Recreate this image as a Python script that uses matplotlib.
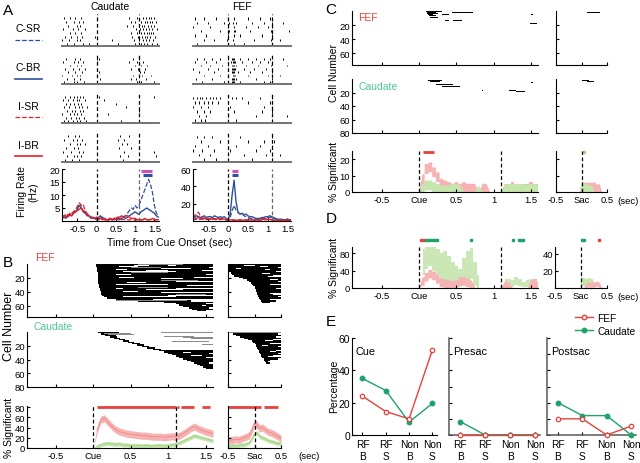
import numpy as np
import matplotlib.pyplot as plt
from matplotlib.lines import Line2D

plt.rcParams['font.family'] = ['Liberation Sans', 'DejaVu Sans']
plt.rcParams['font.size'] = 7
plt.rcParams['xtick.direction'] = 'in'
plt.rcParams['ytick.direction'] = 'in'
plt.rcParams['xtick.major.size'] = 2.2
plt.rcParams['ytick.major.size'] = 2.2
plt.rcParams['xtick.major.pad'] = 2
plt.rcParams['ytick.major.pad'] = 1.5
plt.rcParams['axes.linewidth'] = 0.8
plt.rcParams['xtick.labelsize'] = 6.8
plt.rcParams['ytick.labelsize'] = 6.8

# ---------------- data ----------------
# panel A rasters (spike times per trial, sec from cue)
caud_csr = [[-0.85, -0.7, -0.55, -0.4, 0.02, 0.85, 1.05, 1.2, 1.28, 1.35, 1.42, 1.5],
            [-0.8, -0.6, -0.45, -0.35, 0.9, 1.0, 1.15, 1.25, 1.3, 1.38, 1.45, 1.55],
            [-0.75, -0.5, -0.42, 0.8, 0.95, 1.1, 1.18, 1.24, 1.33, 1.4, 1.48],
            [-0.88, -0.62, -0.48, -0.3, 1.02, 1.12, 1.2, 1.27, 1.36, 1.43, 1.58],
            [-0.7, -0.55, -0.4, 0.88, 1.06, 1.16, 1.22, 1.3, 1.35, 1.41, 1.47],
            [-0.82, -0.66, -0.5, -0.38, -0.05, 0.92, 1.08, 1.19, 1.26, 1.32, 1.39, 1.52],
            [-0.9, -0.72, -0.52, -0.44, 0.4, 0.97, 1.1, 1.21, 1.29, 1.37, 1.46],
            [-0.78, -0.58, -0.36, -0.2, 0.55, 1.0, 1.14, 1.23, 1.31, 1.44, 1.56]]
caud_cbr = [[-0.8, -0.55, -0.42, 0.0, 0.05, 0.95, 1.1],
            [-0.88, -0.6, -0.48, -0.35, 0.02, 0.85, 1.05, 1.2],
            [-0.7, -0.52, -0.4, 1.0, 1.15, 1.3],
            [-0.82, -0.62, -0.45, -0.3, 0.9, 1.08, 1.25],
            [-0.75, -0.55, -0.38, 0.05, 1.12, 1.22],
            [-0.9, -0.65, -0.5, -0.42, 0.95, 1.18, 1.4],
            [-0.78, -0.58, -0.44, 0.1, 0.88, 1.02, 1.28],
            [-0.85, -0.6, -0.5, -0.33, 1.05, 1.15, 1.5]]
caud_isr = [[-0.82, -0.7, -0.6, -0.5, -0.42, -0.35, 0.05, 1.5],
            [-0.88, -0.75, -0.62, -0.52, -0.45, -0.3, 0.2],
            [-0.8, -0.68, -0.58, -0.48, -0.4, 0.5],
            [-0.85, -0.72, -0.55, -0.47, -0.38, -0.25, 0.75],
            [-0.78, -0.65, -0.56, -0.44, -0.36, 1.1],
            [-0.9, -0.7, -0.6, -0.5, -0.4, 0.3],
            [-0.8, -0.66, -0.54, -0.46, -0.33],
            [-0.86, -0.74, -0.62, -0.5, -0.42, -0.28, 0.62]]
caud_ibr = [[-0.75, -0.55, -0.45, 0.6, 0.85],
            [-0.85, -0.62, -0.5, -0.38, 0.55, 0.7],
            [-0.7, -0.52, -0.42, -0.3, 0.65, 0.8],
            [-0.8, -0.6, -0.48, 0.0, 0.58, 0.9],
            [-0.88, -0.66, -0.45, -0.35, 0.72, 1.5],
            [-0.78, -0.58, -0.5, -0.4, 0.6, 0.82, 1.55],
            [-0.82, -0.64, -0.46, 0.68]]
fef_csr = [[-0.85, -0.6, -0.3, 0.0, 0.15, 0.5, 0.8, 1.05, 1.1],
           [-0.8, -0.5, -0.1, 0.02, 0.12, 0.2, 0.6, 0.9, 1.1, 1.4],
           [-0.88, -0.45, 0.0, 0.15, 0.45, 0.75, 1.0, 1.12],
           [-0.7, -0.2, 0.01, 0.14, 0.18, 0.55, 1.08, 1.55],
           [-0.85, -0.55, 0.0, 0.16, 0.3, 0.85, 1.1],
           [-0.6, -0.35, -0.02, 0.13, 0.65, 1.09, 1.3],
           [-0.78, 0.0, 0.15, 0.4, 1.1]]
fef_cbr = [[-0.8, -0.6, -0.4, -0.2, 0.0, 0.1, 0.12, 0.15, 0.3, 0.5, 0.7, 0.9, 1.05, 1.4],
           [-0.85, -0.55, -0.3, 0.08, 0.11, 0.14, 0.17, 0.35, 0.6, 0.8, 1.0, 1.1],
           [-0.7, -0.45, -0.15, 0.0, 0.1, 0.13, 0.16, 0.2, 0.45, 0.75, 1.08, 1.5],
           [-0.88, -0.5, -0.25, 0.09, 0.12, 0.15, 0.18, 0.4, 0.65, 0.95],
           [-0.75, -0.35, 0.1, 0.13, 0.16, 0.25, 0.55, 0.85, 1.1],
           [-0.6, -0.2, 0.0, 0.11, 0.14, 0.17, 0.5, 1.02, 1.3],
           [-0.82, -0.4, 0.1, 0.12, 0.15, 0.19, 0.7, 1.1],
           [-0.65, -0.1, 0.09, 0.13, 0.16, 0.3, 0.9, 1.05]]
fef_isr = [[-0.88, -0.8, -0.72, -0.65, -0.55, -0.45, -0.38, -0.3, -0.2, 0.1, 0.2, 0.35, 0.8, 1.1],
           [-0.85, -0.75, -0.6, -0.5, -0.4, -0.25, 0.0, 0.5, 1.05],
           [-0.9, -0.7, -0.52, 0.05, 0.9, 1.1],
           [-0.8, -0.62, -0.45, 0.15, 0.85, 1.1],
           [-0.75, -0.55, 0.0, 0.7, 1.5],
           [-0.85, -0.68, -0.58, 0.2, 1.1]]
fef_ibr = [[-0.8, -0.6, -0.4, 0.3, 1.1],
           [-0.7, -0.2, 0.0, 0.5, 0.9, 1.15],
           [-0.85, -0.5, 0.2, 0.8, 1.1],
           [-0.88, -0.65, -0.35, 0.05, 0.7, 1.05],
           [-0.75, -0.45, 0.4, 0.95, 1.1, 1.3],
           [-0.6, -0.3, 0.0, 0.6, 1.1]]

# panel A firing rates (Hz), bins -0.9 .. 1.6 every 0.05 s
t_psth = np.linspace(-0.9, 1.6, 51)
rate_caud_csr = [1.5, 2, 1.5, 2.5, 2, 3, 3.5, 4.5, 5.5, 6.5,
                 5, 4, 3.5, 2.5, 2, 1.5, 1.5, 1, 1, 1.5,
                 1, 1.5, 1, 0.5, 0.5, 1, 0.5, 1, 0.5, 1,
                 1, 1.5, 1.5, 2, 3, 4, 5, 4.5, 6, 5,
                 6, 8, 10, 12, 14, 16, 14, 11, 6, 3, 2]
rate_caud_cbr = [1, 1.5, 1, 2, 2.5, 2, 3, 3.5, 4.5, 6,
                 5, 3.5, 3, 2, 2, 1, 1.5, 1, 0.5, 1.5,
                 2, 1, 1, 0.5, 0.5, 1, 0.5, 0.5, 1, 1,
                 0.5, 1, 1.5, 1, 1.5, 2, 2.5, 3, 3.5, 3,
                 2.5, 3.5, 4, 4.5, 5, 4.5, 4, 3.5, 3, 2, 1.5]
rate_caud_isr = [1.5, 2, 2.5, 2, 3, 2.5, 3.5, 4, 5.5, 7,
                 6, 6.5, 4, 3, 2, 1.5, 1, 1, 0.5, 0.5,
                 0.5, 0.8, 0.4, 0.5, 0.3, 0.6, 0.5, 0.4, 0.7, 0.5,
                 0.4, 0.6, 0.5, 0.8, 0.5, 0.4, 0.6, 0.5, 0.3, 0.5,
                 0.6, 0.4, 0.5, 0.7, 0.5, 0.4, 0.6, 0.5, 0.4, 0.5, 0.5]
rate_caud_ibr = [1, 1.5, 2, 1.5, 2.5, 2, 3, 3.5, 4, 4.5,
                 5, 4, 3.5, 2.5, 2, 1.5, 1, 1, 1.5, 1,
                 1, 0.5, 1, 0.5, 0.5, 1, 0.5, 1, 1, 1.5,
                 1.5, 2, 1.5, 2, 2, 1.5, 1, 1, 1, 0.5,
                 0.5, 0.5, 0.5, 1, 0.5, 0.5, 0.5, 1, 0.5, 0.5, 0.5]
rate_fef_csr = [2, 1.5, 2, 1.5, 2, 2.5, 2, 1.5, 2, 1.5,
                2, 2, 1.5, 2, 1.5, 2, 1.5, 1, 1, 4,
                12, 18, 12, 10, 8, 9, 6, 5, 4, 3,
                3, 2, 2, 2, 2, 2.5, 3, 3, 4, 4,
                4, 3, 2, 2, 1.5, 1.5, 1.5, 1, 1, 1, 1]
rate_fef_cbr = [5, 4, 6, 5, 4, 5, 6, 4, 5, 5,
                4, 6, 5, 4, 5, 4, 5, 3, 2, 8,
                30, 47, 22, 10, 8, 9, 7, 8, 6, 5,
                5, 4, 3, 3, 3, 4, 4, 5, 5, 6,
                5, 4, 3, 2, 2, 2, 1.5, 1.5, 2, 1.5, 1.5]
rate_fef_isr = [4, 6, 9, 10, 5, 3, 4, 3, 2, 3,
                2, 3, 2, 2, 3, 2, 2, 1.5, 1, 0.5,
                1, 1, 0.5, 1, 1, 0.5, 1, 1, 0.5, 1,
                1, 1, 0.5, 1, 1, 1, 1, 1.5, 1.5, 1,
                1, 0.5, 1, 0.5, 1, 0.5, 1, 0.5, 0.5, 1, 0.5]
rate_fef_ibr = [3, 2, 3, 4, 3, 2, 3, 2.5, 3, 2,
                3, 2.5, 2, 3, 2, 2.5, 2, 2, 1.5, 1,
                1.5, 1, 1, 1, 1.5, 1, 1, 1.5, 1, 1,
                1.5, 1, 1, 1, 1.5, 2, 2, 2.5, 2, 2,
                1.5, 1, 1, 1, 0.5, 1, 1, 0.5, 1, 0.5, 0.5]

# panel B significance maps: onset / offset per pair of cells
b_fef_cells = np.arange(1, 68, 2)
b_fef_on = [0.04, 0.04, 0.05, 0.05, 0.05, 0.05, 0.06, 0.06, 0.06, 0.06,
            0.07, 0.07, 0.07, 0.07, 0.08, 0.08, 0.08, 0.09, 0.09, 0.1,
            0.1, 0.11, 0.12, 0.14, 0.18, 0.3, 0.6, 0.95, 1.1, 1.15,
            1.2, 1.28, 1.32, 1.38]
b_fef_off = [1.6, 1.6, 1.55, 1.6, 1.45, 1.6, 1.6, 1.5, 1.6, 1.35,
             1.6, 1.6, 1.2, 1.6, 1.6, 1.5, 1.6, 1.1, 1.6, 1.6,
             1.4, 1.6, 1.0, 1.6, 1.6, 0.8, 1.3, 1.6, 1.5, 1.6,
             1.6, 1.55, 1.6, 1.5]
b_fef_gaps = [(2, 0.55, 0.75), (2, 1.0, 1.1), (4, 0.35, 0.6), (6, 0.9, 1.3), (8, 0.3, 0.45),
              (9, 0.7, 1.0), (11, 0.4, 1.1), (13, 1.2, 1.4), (15, 0.3, 0.5), (17, 0.6, 1.5),
              (19, 0.35, 0.55), (21, 0.9, 1.2), (23, 0.3, 0.8), (25, 1.1, 1.6), (27, 0.45, 0.7),
              (29, 0.3, 1.0), (31, 1.25, 1.5), (33, 0.5, 0.9), (35, 0.3, 0.4), (37, 0.7, 1.2),
              (39, 0.4, 0.6), (41, 0.9, 1.6), (43, 0.35, 0.75), (45, 1.0, 1.3), (47, 0.4, 1.1),
              (50, 0.5, 0.9), (56, 1.3, 1.4), (60, 1.45, 1.5)]
b_fef_gray = [(1, 0.6, 1.2), (5, 0.5, 0.9), (12, 0.5, 1.0), (24, 0.9, 1.4), (34, 0.6, 1.0),
              (44, 1.1, 1.5), (52, 0.3, 1.25)]

b_fef_sac_cells = np.arange(1, 56, 2)
b_fef_sac_on = [-0.5, -0.5, -0.5, -0.5, -0.5, -0.48, -0.45, -0.42, -0.38, -0.3,
                -0.22, -0.15, -0.1, -0.06, -0.04, -0.02, 0.0, 0.01, 0.02, 0.03,
                0.04, 0.05, 0.06, 0.07, 0.08, 0.1, 0.12, 0.15]
b_fef_sac_off = [0.5, 0.5, 0.45, 0.5, 0.5, 0.4, 0.5, 0.5, 0.35, 0.5,
                 0.5, 0.5, 0.45, 0.5, 0.3, 0.5, 0.5, 0.4, 0.5, 0.5,
                 0.5, 0.35, 0.5, 0.45, 0.5, 0.3, 0.4, 0.3]
b_fef_sac_gaps = [(2, -0.2, 0.0), (4, 0.1, 0.25), (6, -0.35, -0.25), (8, 0.2, 0.3), (10, -0.1, 0.05),
                  (14, 0.15, 0.3), (18, 0.25, 0.4), (22, 0.3, 0.45), (26, 0.2, 0.3), (30, 0.35, 0.5),
                  (36, 0.25, 0.35), (42, 0.3, 0.4), (46, 0.2, 0.3)]

b_caud_cells = np.arange(1, 54, 2)
b_caud_on = [0.07, 0.1, 0.16, 0.22, 0.28, 0.34, 0.4, 0.46, 0.52, 0.58,
             0.65, 0.72, 0.8, 0.88, 0.95, 1.0, 1.05, 1.1, 1.15, 1.2,
             1.25, 1.3, 1.35, 1.38, 1.42, 1.47, 1.5]
b_caud_off = [0.35, 0.3, 0.3, 0.32, 0.36, 0.42, 0.48, 0.55, 0.62, 0.68,
              0.75, 0.82, 0.9, 1.6, 1.6, 1.55, 1.6, 1.6, 1.5, 1.6,
              1.6, 1.6, 1.55, 1.6, 1.6, 1.6, 1.6]
b_caud_gray = [(1, 0.9, 1.6), (2, 0.15, 0.5), (4, 0.2, 0.55), (6, 0.95, 1.35), (8, 1.2, 1.6),
               (10, 1.3, 1.6), (14, 1.05, 1.55), (18, 1.45, 1.6)]
b_caud_gaps = [(30, 1.2, 1.3), (34, 1.3, 1.45), (38, 1.35, 1.5), (42, 1.4, 1.5)]

b_caud_sac_cells = np.arange(1, 46, 2)
b_caud_sac_on = [-0.45, -0.4, -0.35, -0.28, -0.2, -0.12, -0.05, -0.02, 0.0, 0.02,
                 0.03, 0.05, 0.06, 0.08, 0.09, 0.1, 0.12, 0.13, 0.15, 0.17,
                 0.18, 0.2, 0.22]
b_caud_sac_off = [0.5, 0.45, 0.5, 0.4, 0.5, 0.35, 0.5, 0.5, 0.3, 0.5,
                  0.45, 0.5, 0.5, 0.4, 0.5, 0.45, 0.5, 0.35, 0.5, 0.45,
                  0.3, 0.25, 0.3]
b_caud_sac_gray = [(1, -0.5, 0.5), (3, -0.4, 0.3)]
b_caud_sac_gaps = [(6, 0.1, 0.25), (12, 0.2, 0.35), (20, 0.15, 0.25), (28, 0.3, 0.4), (36, 0.25, 0.35)]

# % significant, cue-aligned 0..1.6 and saccade-aligned -0.5..0.5 (0.05 s bins)
t_cue = np.linspace(0, 1.6, 33)
t_sac = np.linspace(-0.5, 0.5, 21)
b_fef_pct = [0, 35, 55, 58, 50, 42, 36, 32, 30, 28, 27, 26, 25, 24, 24, 23, 22,
             22, 22, 21, 22, 23, 22, 24, 28, 33, 38, 42, 38, 35, 32, 30, 28]
b_caud_pct = [0, 3, 6, 8, 9, 8, 7, 8, 6, 6, 5, 5, 5, 4, 5, 4, 4,
              5, 5, 4, 5, 6, 7, 10, 13, 17, 20, 24, 22, 20, 18, 16, 14]
b_fef_sac_pct = [15, 15, 16, 17, 16, 18, 20, 22, 25, 35, 48, 45, 38, 40, 36, 32, 30, 28, 25, 22, 18]
b_caud_sac_pct = [4, 4, 5, 4, 5, 6, 6, 8, 10, 18, 28, 30, 22, 20, 18, 15, 13, 12, 10, 9, 8]
b_fef_sem, b_caud_sem = 7, 4
b_sig_cue = [(0.05, 1.1), (1.12, 1.14), (1.17, 1.35), (1.45, 1.56)]
b_sig_sac = [(-0.5, 0.12), (0.17, 0.45)]

# panel C
c_fef_segs = [(1, 0.09, 0.3), (2, 0.1, 0.22), (3, 0.1, 0.25), (4, 0.11, 0.2), (5, 0.12, 0.18),
              (7, 0.13, 0.22), (9, 0.15, 0.25), (2, 0.44, 0.72), (5, 0.3, 0.4), (14, 0.34, 0.4),
              (14, 0.46, 0.57), (5, 1.49, 1.52), (18, 1.48, 1.58)]
c_fef_sac_segs = [(2, 0.11, 0.37)]
c_caud_segs = [(2, 0.12, 0.3), (4, 0.15, 0.28), (6, 0.18, 0.4), (8, 0.22, 0.45), (11, 0.3, 0.55),
               (5, 1.5, 1.52), (17, 0.84, 0.86), (17, 1.2, 1.3), (19, 1.3, 1.42)]
c_caud_sac_segs = [(2, 0.0, 0.15), (4, 0.1, 0.25)]
c_fef_pct = [0, 8, 14, 15, 12, 9, 5, 4, 3, 2, 3, 2, 3, 2, 2, 2, 0,
             2, 2, 0, 0, 0, 0, 2, 2, 3, 2, 2, 2, 2, 3, 2, 2]
c_caud_pct = [0, 2, 4, 4, 3, 2, 1, 1, 1, 2, 2, 1, 0, 0, 0, 0, 1,
              0, 0, 0, 0, 0, 0, 1, 2, 2, 2, 2, 2, 1, 2, 2, 1]
c_fef_sac_pct = [0, 0, 0, 0, 0, 0, 0, 0, 0, 0, 2, 3, 3, 3, 3, 3, 2, 2, 0, 0, 0]
c_caud_sac_pct = [0, 0, 0, 0, 0, 0, 0, 0, 0, 0, 4, 3, 2, 1, 1, 0, 0, 0, 0, 0, 0]
c_fef_sem, c_caud_sem = 3, 3

# panel D
d_caud_hi = [0, 90, 95, 95, 95, 90, 80, 85, 75, 60, 50, 45, 70, 85, 92, 60, 30,
             0, 0, 0, 0, 0, 0, 20, 22, 18, 25, 20, 15, 18, 22, 20, 15]
d_caud_lo = [0, 30, 45, 50, 40, 30, 20, 15, 10, 8, 5, 3, 10, 15, 20, 5, 0,
             0, 0, 0, 0, 0, 0, 2, 5, 3, 6, 4, 2, 3, 5, 4, 2]
d_fef_pct = [0, 15, 25, 32, 28, 20, 12, 10, 8, 6, 8, 15, 15, 12, 8, 0, 0,
             0, 0, 0, 0, 0, 0, 5, 3, 0, 0, 0, 0, 0, 8, 10, 5]
d_fef_sem = 10
d_caud_sac_hi = [0, 0, 0, 0, 0, 0, 0, 0, 0, 0, 14, 12, 10, 12, 10, 8, 0, 0, 0, 0, 0]
d_caud_sac_lo = [0, 0, 0, 0, 0, 0, 0, 0, 0, 0, 2, 2, 1, 2, 1, 1, 0, 0, 0, 0, 0]
d_fef_sac_pct = [0, 0, 0, 0, 0, 0, 0, 0, 0, 0, 0, 0, 3, 4, 4, 4, 5, 4, 0, 0, 0]
d_fef_sac_sem = 3
d_sig_fef = [0.03, 0.06]
d_sig_caud = [0.09, 0.12, 0.15, 0.18, 0.21, 0.24, 0.7, 1.25, 1.33, 1.36, 1.39]
d_sig_fef_sac = [0.35]
d_sig_caud_sac = [0.02, 0.05]

# panel E
e_cats = ['RF\nB', 'RF\nS', 'Non\nB', 'Non\nS']
e_fef = {'Cue': [24, 14.5, 10, 52.5], 'Presac': [0, 0, 0, 0], 'Postsac': [10, 10, 0, 5.5]}
e_caud = {'Cue': [35, 27.5, 8, 19.5], 'Presac': [8.3, 0, 0, 0], 'Postsac': [20, 12, 12, 0]}

# ---------------- figure ----------------
W, H = 640, 464
fig = plt.figure(figsize=(6.4, 4.64), dpi=100)

BLUE = '#2f4f9f'
RED = '#e4202a'
MAGENTA = '#cc4fc4'
FEF_RED = '#e8413c'
CAUD_TXT = '#4ec79b'
PINK = '#f6b3b3'
PINK_LINE = '#f08c8c'
GREEN_BAND = '#c6e5ad'
GREEN_LINE = '#9fd487'
E_GREEN = '#1fa36a'
DASH = (0, (3, 2))


def px_axes(x0, y0, x1, y1):
    ax = fig.add_axes([x0 / W, 1 - y1 / H, (x1 - x0) / W, (y1 - y0) / H])
    ax.spines['top'].set_visible(False)
    ax.spines['right'].set_visible(False)
    return ax


def ftext(x, y, s, **kw):
    kw.setdefault('ha', 'center')
    kw.setdefault('va', 'center')
    fig.text(x / W, 1 - y / H, s, **kw)


def fline(x0, x1, y, **kw):
    fig.add_artist(Line2D([x0 / W, x1 / W], [1 - y / H, 1 - y / H], **kw))


def draw_map(ax, cells, on, off, step, gray=(), gaps=()):
    on = np.array(on)
    off = np.array(off)
    ax.barh(cells, off - on, left=on, height=step, color='k', lw=0)
    for c, a, b in gray:
        ax.barh(c, b - a, left=a, height=1.2, color='0.55', lw=0)
    for c, a, b in gaps:
        ax.barh(c, b - a, left=a, height=1.0, color='white', lw=0)


def draw_segs(ax, segs):
    for c, a, b in segs:
        ax.barh(c, b - a, left=a, height=1.3, color='k', lw=0)


def band(ax, t, m, s, fc, lc, step=None):
    m = np.array(m, dtype=float)
    ax.fill_between(t, np.clip(m - s, 0, None), m + s, where=m > 0, color=fc, lw=0,
                    step=step, interpolate=True)
    if step is None:
        ax.plot(t, np.where(m > 0, m, np.nan), color=lc, lw=0.7)


# ---- Panel A ----
ftext(8, 11, 'A', fontsize=11)
ftext(110, 7, 'Caudate', fontsize=7.5)
ftext(242, 7, 'FEF', fontsize=7.5)
row_px = [(15, 47), (56, 85), (94, 124), (133, 163)]
caud_rows = [caud_csr, caud_cbr, caud_isr, caud_ibr]
fef_rows = [fef_csr, fef_cbr, fef_isr, fef_ibr]
for (y0, y1), cr, fr in zip(row_px, caud_rows, fef_rows):
    for (x0, x1), trials, xl in [((62, 159), cr, (-0.9, 1.62)), ((193, 291), fr, (-0.89, 1.59))]:
        ax = px_axes(x0, y0, x1, y1)
        ax.eventplot(trials, lineoffsets=np.arange(len(trials))[::-1] + 0.5,
                     linelengths=0.55, colors='k', linewidths=0.7)
        ax.set_xlim(*xl)
        ax.set_ylim(0, len(trials) + 0.6)
        for v in (0, 1.1):
            ax.axvline(v, color='k', ls=DASH, lw=0.9)
        ax.spines['left'].set_visible(False)
        ax.spines['bottom'].set_color('0.45')
        ax.spines['bottom'].set_linewidth(1.4)
        ax.set_xticks([])
        ax.set_yticks([])

leg_items = [('C-SR', 29, 41, BLUE, '--'), ('C-BR', 68, 80, BLUE, '-'),
             ('I-SR', 107, 118, RED, '--'), ('I-BR', 146, 157, RED, '-')]
for lab, ty, ly, c, ls in leg_items:
    ftext(28, ty, lab, fontsize=7.5)
    fline(15, 42, ly, color=c, ls=ls, lw=1.2 if ls == '-' else 0.9)

xt_a = [-0.5, 0, 0.5, 1, 1.5]
xl_a = ['-0.5', '0', '0.5', '1', '1.5']
ax = px_axes(62, 170, 159, 222)
ax.plot(t_psth, rate_caud_csr, color=BLUE, ls='--', lw=0.9)
ax.plot(t_psth, rate_caud_cbr, color=BLUE, lw=1.0)
ax.plot(t_psth, rate_caud_isr, color=RED, ls='--', lw=0.9)
ax.plot(t_psth, rate_caud_ibr, color=RED, lw=1.0)
ax.hlines(19.4, 1.15, 1.45, color=MAGENTA, lw=2.2)
ax.hlines(17.6, 1.2, 1.45, color=BLUE, lw=2.2)
for v in (0, 1.1):
    ax.axvline(v, color='k' if v == 0 else '0.4', ls=DASH, lw=0.9)
ax.set_xlim(-0.9, 1.62)
ax.set_ylim(0, 20)
ax.set_yticks([5, 10, 15, 20])
ax.set_xticks(xt_a, xl_a)

ax = px_axes(193, 170, 291, 222)
ax.plot(t_psth, rate_fef_csr, color=BLUE, ls='--', lw=0.9)
ax.plot(t_psth, rate_fef_cbr, color=BLUE, lw=1.0)
ax.plot(t_psth, rate_fef_isr, color=RED, ls='--', lw=0.9)
ax.plot(t_psth, rate_fef_ibr, color=RED, lw=1.0)
ax.hlines(58, 0.1, 0.25, color=MAGENTA, lw=2.2)
ax.hlines(53, 0.1, 0.25, color=BLUE, lw=2.2)
for v in (0, 1.1):
    ax.axvline(v, color='k' if v == 0 else '0.4', ls=DASH, lw=0.9)
ax.set_xlim(-0.89, 1.59)
ax.set_ylim(0, 60)
ax.set_yticks([20, 40, 60])
ax.set_xticks(xt_a, xl_a)

ftext(22, 192, 'Firing Rate', fontsize=7.5, rotation=90)
ftext(33, 192, '(Hz)', fontsize=7.5, rotation=90)
ftext(170, 243, 'Time from Cue Onset (sec)', fontsize=7.5)

# ---- Panel B ----
ftext(8, 263, 'B', fontsize=11)
ftext(45, 258, 'FEF', fontsize=7.5, color=FEF_RED)
ftext(53, 327, 'Caudate', fontsize=7.5, color=CAUD_TXT)
ftext(9, 326, 'Cell Number', fontsize=9, rotation=90)
ftext(9, 428, '% Significant', fontsize=7.5, rotation=90)

XL_CUE = (-0.885, 1.6)
XL_SAC = (-0.5, 0.5)
cue_ticks = [-0.5, 0, 0.5, 1, 1.5]
cue_labels = ['-0.5', 'Cue', '0.5', '1', '1.5']
sac_ticks = [-0.5, 0, 0.5]
sac_labels = ['-0.5', 'Sac', '0.5']


def map_axes(x0, y0, x1, y1, xl, ymax, yt, ylab=True, xt=cue_ticks):
    ax = px_axes(x0, y0, x1, y1)
    ax.set_xlim(*xl)
    ax.set_ylim(ymax, 0)
    ax.set_yticks(yt)
    if not ylab:
        ax.set_yticklabels([])
    ax.set_xticks(xt, [])
    return ax


ax = map_axes(27, 265, 213, 318, XL_CUE, 76, [20, 40, 60])
draw_map(ax, b_fef_cells, b_fef_on, b_fef_off, 2.0, b_fef_gray, b_fef_gaps)
ax = map_axes(228, 265, 281, 318, XL_SAC, 76, [20, 40, 60], False, sac_ticks)
draw_map(ax, b_fef_sac_cells, b_fef_sac_on, b_fef_sac_off, 2.0, (), b_fef_sac_gaps)
ax = map_axes(27, 333, 213, 388, XL_CUE, 80, [20, 40, 60, 80])
draw_map(ax, b_caud_cells, b_caud_on, b_caud_off, 2.0, b_caud_gray, b_caud_gaps)
ax = map_axes(228, 333, 281, 388, XL_SAC, 80, [20, 40, 60, 80], False, sac_ticks)
draw_map(ax, b_caud_sac_cells, b_caud_sac_on, b_caud_sac_off, 2.0, b_caud_sac_gray, b_caud_sac_gaps)


def pct_axes(x0, y0, x1, y1, xl, ylim, yt, ylab, xt, xlab, dashes):
    ax = px_axes(x0, y0, x1, y1)
    ax.set_xlim(*xl)
    ax.set_ylim(*ylim)
    ax.set_yticks(yt)
    if not ylab:
        ax.set_yticklabels([])
    ax.set_xticks(xt, xlab)
    for v in dashes:
        ax.axvline(v, color='k', ls=DASH, lw=0.9, zorder=5)
    return ax


ax = pct_axes(27, 407, 213, 449, XL_CUE, (0, 82), [0, 20, 40, 60, 80], True,
              cue_ticks, cue_labels, (0, 1.1))
band(ax, t_cue, b_caud_pct, b_caud_sem, GREEN_BAND, GREEN_LINE)
band(ax, t_cue, b_fef_pct, b_fef_sem, PINK, PINK_LINE)
for a, b in b_sig_cue:
    ax.hlines(80, a, b, color=FEF_RED, lw=2.0, clip_on=False)
ax = pct_axes(228, 407, 281, 449, XL_SAC, (0, 82), [0, 20, 40, 60, 80], False,
              sac_ticks, sac_labels, (0,))
band(ax, t_sac, b_caud_sac_pct, b_caud_sem, GREEN_BAND, GREEN_LINE)
band(ax, t_sac, b_fef_sac_pct, b_fef_sem, PINK, PINK_LINE)
for a, b in b_sig_sac:
    ax.hlines(80, a, b, color=FEF_RED, lw=2.0, clip_on=False)
ftext(298, 457, '(sec)', fontsize=6.8, ha='left')

# ---- Panel C ----
ftext(331, 10, 'C', fontsize=11)
ftext(368, 18, 'FEF', fontsize=7.5, color=FEF_RED)
ftext(378, 87, 'Caudate', fontsize=7.5, color=CAUD_TXT)
ftext(334, 73, 'Cell Number', fontsize=7.5, rotation=90)
ftext(334, 172, '% Significant', fontsize=7.5, rotation=90)
XL_C = (-0.897, 1.59)
ax = map_axes(352, 12, 538, 66, XL_C, 77, [20, 40, 60])
draw_segs(ax, c_fef_segs)
ax = map_axes(556, 12, 607, 66, XL_SAC, 77, [20, 40, 60], False, sac_ticks)
draw_segs(ax, c_fef_sac_segs)
ax = map_axes(352, 80, 538, 134, XL_C, 80, [20, 40, 60, 80])
draw_segs(ax, c_caud_segs)
ax = map_axes(556, 80, 607, 134, XL_SAC, 80, [20, 40, 60, 80], False, sac_ticks)
draw_segs(ax, c_caud_sac_segs)

ax = pct_axes(352, 152, 538, 193, XL_C, (0, 25), [0, 10, 20], True,
              cue_ticks, cue_labels, (0, 1.1))
band(ax, t_cue, c_fef_pct, c_fef_sem, PINK, PINK_LINE, step='mid')
band(ax, t_cue, c_caud_pct, c_caud_sem, GREEN_BAND, GREEN_LINE, step='mid')
ax.hlines(24.3, 0.05, 0.2, color=FEF_RED, lw=2.0, clip_on=False)
ax = pct_axes(556, 152, 607, 193, XL_SAC, (0, 25), [0, 10, 20], False,
              sac_ticks, sac_labels, (0,))
band(ax, t_sac, c_fef_sac_pct, c_fef_sem, PINK, PINK_LINE, step='mid')
band(ax, t_sac, c_caud_sac_pct, c_caud_sem, GREEN_BAND, GREEN_LINE, step='mid')
ax.plot([0.04], [24.3], 's', color=GREEN_LINE, ms=1.8, clip_on=False)
ftext(617, 202, '(sec)', fontsize=6.8, ha='left')

# ---- Panel D ----
ftext(331, 219, 'D', fontsize=11)
ftext(334, 268, '% Significant', fontsize=7.5, rotation=90)
ax = pct_axes(352, 248, 538, 289, XL_C, (0, 95), [0, 40, 80], True,
              cue_ticks, cue_labels, (0, 1.1))
ax.fill_between(t_cue, d_caud_lo, d_caud_hi, where=np.array(d_caud_hi) > 0,
                color=GREEN_BAND, lw=0, step='mid', alpha=0.9)
band(ax, t_cue, d_fef_pct, d_fef_sem, PINK, PINK_LINE, step='mid')
ax.plot(d_sig_fef, [112] * len(d_sig_fef), 's', color=FEF_RED, ms=1.8, clip_on=False)
ax.plot(d_sig_caud, [112] * len(d_sig_caud), 's', color=E_GREEN, ms=1.8, clip_on=False)
ax = pct_axes(555, 248, 607, 289, XL_SAC, (0, 48), [20, 40], True,
              sac_ticks, sac_labels, (0,))
ax.fill_between(t_sac, d_caud_sac_lo, d_caud_sac_hi, where=np.array(d_caud_sac_hi) > 0,
                color=GREEN_BAND, lw=0, step='mid')
band(ax, t_sac, d_fef_sac_pct, d_fef_sac_sem, PINK, PINK_LINE, step='mid')
ax.plot(d_sig_fef_sac, [56] * len(d_sig_fef_sac), 's', color=FEF_RED, ms=1.8, clip_on=False)
ax.plot(d_sig_caud_sac, [56] * len(d_sig_caud_sac), 's', color=E_GREEN, ms=1.8, clip_on=False)
ftext(617, 297, '(sec)', fontsize=6.8, ha='left')

# ---- Panel E ----
ftext(331, 322, 'E', fontsize=11)
ftext(334, 386, 'Percentage', fontsize=7.5, rotation=90)
e_pos = {'Cue': (352, 437), 'Presac': (449, 540), 'Postsac': (547, 636)}
xpos = np.arange(len(e_cats))
for i, (name, (x0, x1)) in enumerate(e_pos.items()):
    ax = px_axes(x0, 339, x1, 436)
    ax.plot(xpos, e_caud[name], '-o', color=E_GREEN, lw=1.0, ms=3.2, zorder=3, clip_on=False)
    ax.plot(xpos, e_fef[name], '-o', color=FEF_RED, lw=1.0, ms=3.2, mfc='white',
            mec=FEF_RED, mew=0.9, zorder=4, clip_on=False)
    ax.set_xlim(-0.45, 3.2)
    ax.set_ylim(0, 60)
    ax.set_xticks(xpos, e_cats, fontsize=7.3, linespacing=1.2)
    ax.tick_params(axis='x', pad=3)
    if i == 0:
        ax.set_yticks([0, 20, 40, 60])
        ax.tick_params(axis='y', labelsize=7.5)
    else:
        ax.set_yticks([0, 10, 20, 30, 40, 50, 60], [])
        for sp in ('left', 'bottom'):
            ax.spines[sp].set_color('0.35')
            ax.spines[sp].set_linewidth(1.1)
    ax.text(-0.3, 52, name, fontsize=7.8, ha='left', va='center')

leg_h = [Line2D([], [], color=FEF_RED, marker='o', mfc='white', mec=FEF_RED, ms=3.2, lw=1.0),
         Line2D([], [], color=E_GREEN, marker='o', ms=3.2, lw=1.0)]
fig.legend(leg_h, ['FEF', 'Caudate'], loc='upper left', bbox_to_anchor=(575 / W, 1 - 314 / H),
           frameon=False, fontsize=7.3, handlelength=1.8, handletextpad=0.4,
           labelspacing=0.25, borderaxespad=0, borderpad=0)

fig.savefig('out.png', dpi=100)
